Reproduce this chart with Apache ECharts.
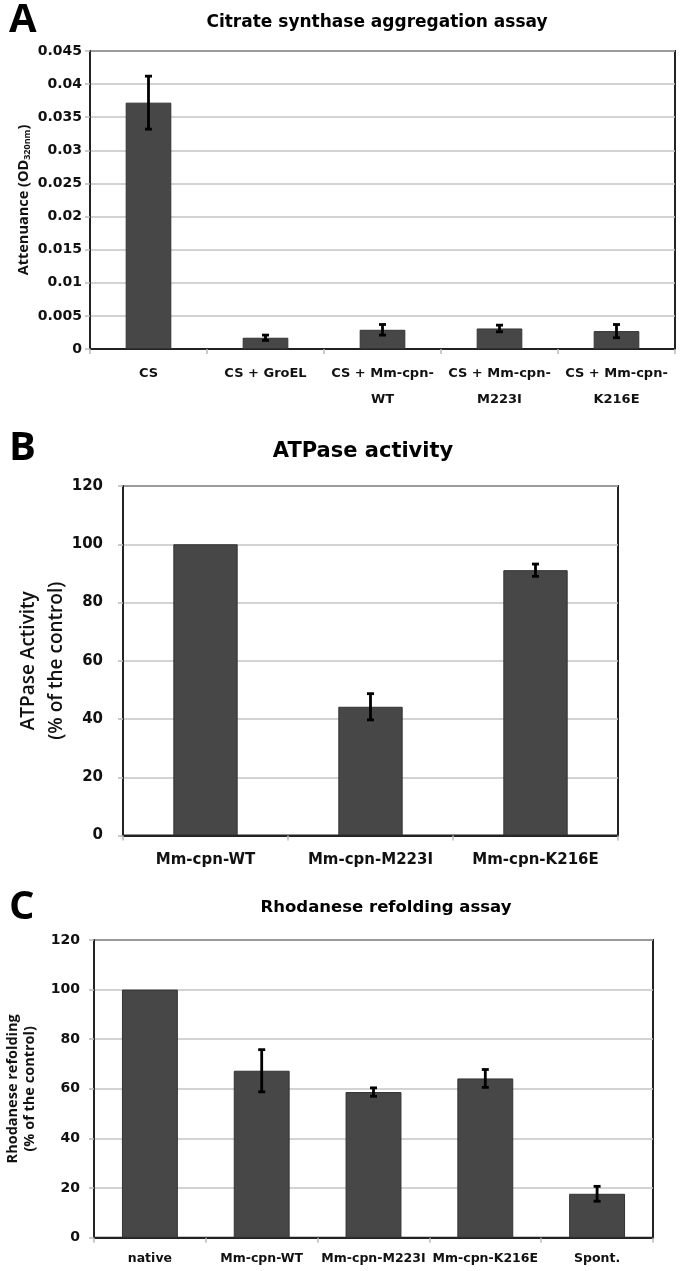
<!DOCTYPE html>
<html><head><meta charset="utf-8">
<script src="https://cdn.jsdelivr.net/npm/echarts@6/dist/echarts.min.js"></script>
<style>html,body{margin:0;padding:0;background:#fff}#c{width:680px;height:1271px}</style>
</head><body><div id="c"></div>
<script>
// Panel A: Citrate synthase aggregation assay
const catA = ['CS', 'CS + GroEL', 'CS + Mm-cpn-\nWT', 'CS + Mm-cpn-\nM223I', 'CS + Mm-cpn-\nK216E'];
const valA = [0.0372, 0.0017, 0.0029, 0.0031, 0.0027];
const errA = [0.0040, 0.0004, 0.0008, 0.0005, 0.0010];
// Panel B: ATPase activity
const catB = ['Mm-cpn-WT', 'Mm-cpn-M223I', 'Mm-cpn-K216E'];
const valB = [100, 44.2, 91.1];
const errB = [null, 4.5, 2.1];
// Panel C: Rhodanese refolding assay
const catC = ['native', 'Mm-cpn-WT', 'Mm-cpn-M223I', 'Mm-cpn-K216E', 'Spont.'];
const valC = [100, 67.3, 58.7, 64.2, 17.7];
const errC = [null, 8.5, 1.7, 3.6, 3.0];

const HF = 'DejaVu Sans';   // horizontal texts (reference is horizontally stretched)
const VF = 'Open Sans';     // rotated axis names
const chart = echarts.init(document.getElementById('c'), null, {renderer: 'canvas'});

function errData(vals, errs) {
  const out = [];
  vals.forEach((v, i) => { if (errs[i] != null) out.push([i, v - errs[i], v + errs[i]]); });
  return out;
}
function errRender(params, api) {
  const x = api.value(0), lo = api.value(1), hi = api.value(2);
  const p1 = api.coord([x, lo]), p2 = api.coord([x, hi]);
  const w = 3.5;
  const style = {stroke: '#000', lineWidth: 2.8};
  return {type: 'group', children: [
    {type: 'line', shape: {x1: p1[0], y1: p1[1], x2: p2[0], y2: p2[1]}, style},
    {type: 'line', shape: {x1: p1[0] - w, y1: p1[1], x2: p1[0] + w, y2: p1[1]}, style},
    {type: 'line', shape: {x1: p2[0] - w, y1: p2[1], x2: p2[0] + w, y2: p2[1]}, style}
  ]};
}
function xAxis(idx, cats, fs, margin, lh) {
  return {
    type: 'category', gridIndex: idx, data: cats,
    axisLine: {show: true, lineStyle: {color: '#222', width: 2}},
    axisTick: {show: true, length: 5, lineStyle: {color: '#bbb', width: 1.5}},
    axisLabel: {color: '#111', fontFamily: HF, fontWeight: 'bold', fontSize: fs, margin: margin, lineHeight: lh, interval: 0}
  };
}
function yAxis(idx, max, interval, fs, margin, fmt, name, nameStyle, nameGap, moveOverlap) {
  return {
    type: 'value', gridIndex: idx, min: 0, max: max, interval: interval,
    name: name, nameLocation: 'middle', nameRotate: 90, nameGap: nameGap,
    nameMoveOverlap: moveOverlap,
    nameTextStyle: nameStyle,
    axisLine: {show: true, lineStyle: {color: '#222', width: 2}},
    axisTick: {show: true, length: 5, lineStyle: {color: '#bbb', width: 1.5}},
    splitLine: {show: true, lineStyle: {color: '#c4c4c4', width: 1.5}},
    axisLabel: {color: '#111', fontFamily: HF, fontWeight: 'bold', fontSize: fs, margin: margin, formatter: fmt}
  };
}
const barStyle = {color: '#474747', borderColor: '#333', borderWidth: 1};
const gridBase = {show: true, borderColor: '#222', borderWidth: 2, backgroundColor: '#fff', containLabel: false, outerBoundsMode: 'none'};

chart.setOption({
  animation: false,
  backgroundColor: '#fff',
  title: [
    {text: 'A', left: 4, top: -4, textStyle: {fontFamily: VF, fontWeight: 'bold', fontSize: 40, color: '#000'}},
    {text: 'Citrate synthase aggregation assay', left: 372, top: 9, textAlign: 'center',
     textStyle: {fontFamily: HF, fontWeight: 'bold', fontSize: 17, color: '#000'}},
    {text: 'B', left: 4, top: 424, textStyle: {fontFamily: VF, fontWeight: 'bold', fontSize: 40, color: '#000'}},
    {text: 'ATPase activity', left: 358, top: 436, textAlign: 'center',
     textStyle: {fontFamily: HF, fontWeight: 'bold', fontSize: 21, color: '#000'}},
    {text: 'C', left: 4, top: 883, textStyle: {fontFamily: VF, fontWeight: 'bold', fontSize: 40, color: '#000'}},
    {text: 'Rhodanese refolding assay', left: 381, top: 894, textAlign: 'center',
     textStyle: {fontFamily: HF, fontWeight: 'bold', fontSize: 16.5, color: '#000'}}
  ],
  grid: [
    Object.assign({left: 90, right: 5, top: 51, height: 298}, gridBase),
    Object.assign({left: 123, right: 62, top: 486, height: 349.5}, gridBase),
    Object.assign({left: 94, right: 27, top: 940, height: 297.7}, gridBase)
  ],
  xAxis: [
    xAxis(0, catA, 13, 12, 26),
    xAxis(1, catB, 15, 15, 20),
    xAxis(2, catC, 12.5, 13, 16)
  ],
  yAxis: [
    yAxis(0, 0.045, 0.005, 14, 8, v => String(+v.toFixed(3)),
      'Attenuance (OD{sub|320nm})',
      {fontFamily: VF, fontWeight: 'bold', fontSize: 14.5, color: '#111',
       rich: {sub: {fontFamily: VF, fontWeight: 'bold', fontSize: 9, color: '#111', padding: [7, 0, 0, 0]}}}, 58, false),
    yAxis(1, 120, 20, 15, 20, v => String(v),
      'ATPase Activity\n(% of the control)',
      {fontFamily: VF, fontWeight: 600, fontSize: 19, color: '#111', lineHeight: 28}, 52, false),
    yAxis(2, 120, 20, 14, 14, v => String(v),
      'Rhodanese refolding\n(% of the control)',
      {fontFamily: VF, fontWeight: 'bold', fontSize: 14.5, color: '#111', lineHeight: 17}, 56, true)
  ],
  series: [
    {type: 'bar', xAxisIndex: 0, yAxisIndex: 0, data: valA, barWidth: '39%', itemStyle: barStyle},
    {type: 'custom', xAxisIndex: 0, yAxisIndex: 0, data: errData(valA, errA), renderItem: errRender, encode: {x: 0, y: [1, 2]}, z: 10},
    {type: 'bar', xAxisIndex: 1, yAxisIndex: 1, data: valB, barWidth: '39%', itemStyle: barStyle},
    {type: 'custom', xAxisIndex: 1, yAxisIndex: 1, data: errData(valB, errB), renderItem: errRender, encode: {x: 0, y: [1, 2]}, z: 10},
    {type: 'bar', xAxisIndex: 2, yAxisIndex: 2, data: valC, barWidth: '50%', itemStyle: barStyle},
    {type: 'custom', xAxisIndex: 2, yAxisIndex: 2, data: errData(valC, errC), renderItem: errRender, encode: {x: 0, y: [1, 2]}, z: 10}
  ]
});
</script></body></html>
